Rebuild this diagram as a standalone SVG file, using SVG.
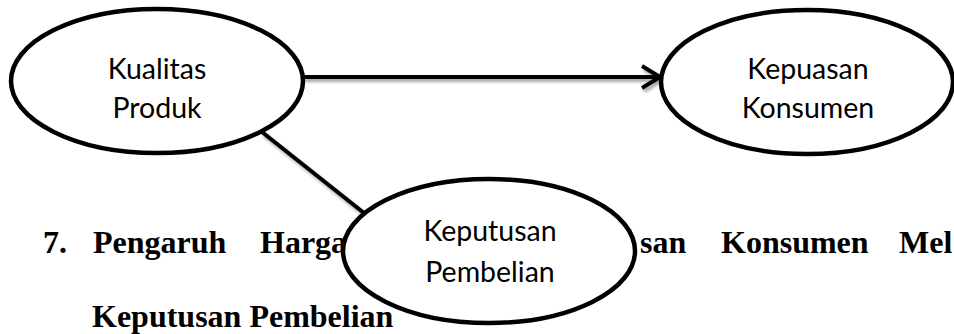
<svg xmlns="http://www.w3.org/2000/svg" width="954" height="334" viewBox="0 0 954 334">
  <defs>
    <filter id="shadow" x="-10%" y="-50%" width="120%" height="200%">
      <feDropShadow dx="2" dy="3" stdDeviation="1.6" flood-color="#000" flood-opacity="0.35"/>
    </filter>
    <style>
      .node ellipse { fill: #fff; stroke: #000; stroke-width: 4.5; }
      .label { font-family: Lato, "Open Sans", sans-serif; font-size: 28.5px; fill: #000; text-anchor: middle; }
      .edge { fill: none; stroke: #000; stroke-width: 4; stroke-linecap: butt; }
      .para { font-family: "Liberation Serif", "Times New Roman", serif; font-weight: bold; font-size: 32px; fill: #000; }
    </style>
  </defs>

  <!-- heading paragraph behind the diagram -->
  <g id="heading">
    <text class="para" x="43" y="253">7.</text>
    <text class="para" x="93" y="253">Pengaruh</text>
    <text class="para" x="260" y="253">Harga</text>
    <text class="para" x="640" y="253">san</text>
    <text class="para" x="721" y="253">Konsumen</text>
    <text class="para" x="899" y="253">Mel</text>
    <text class="para" x="92" y="327">Keputusan Pembelian</text>
  </g>

  <!-- connectors -->
  <g id="connectors" filter="url(#shadow)">
    <line class="edge" x1="303" y1="77" x2="660" y2="77"/>
    <path class="edge" d="M642,66 L660,77 L642,88" stroke-linejoin="miter"/>
    <line class="edge" x1="262" y1="132" x2="364" y2="213"/>
  </g>

  <g id="kualitas-produk" class="node">
    <ellipse cx="157" cy="81" rx="146" ry="72"/>
    <text class="label" x="157" y="79">Kualitas</text>
    <text class="label" x="157" y="118">Produk</text>
  </g>

  <g id="kepuasan-konsumen" class="node">
    <ellipse cx="807" cy="82" rx="146" ry="72"/>
    <text class="label" x="808" y="79">Kepuasan</text>
    <text class="label" x="808" y="118">Konsumen</text>
  </g>

  <g id="keputusan-pembelian" class="node">
    <ellipse cx="489" cy="251" rx="146" ry="72"/>
    <text class="label" x="490" y="241">Keputusan</text>
    <text class="label" x="490" y="282">Pembelian</text>
  </g>
</svg>
